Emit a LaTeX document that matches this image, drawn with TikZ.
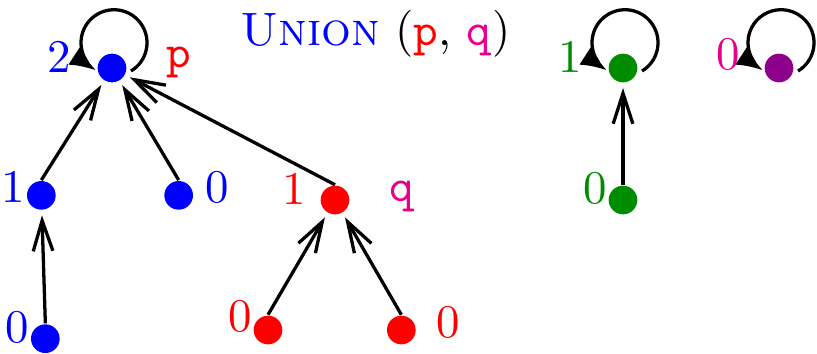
\documentclass[tikz,border=0pt]{standalone}
\usepackage{tikz}
\usetikzlibrary{arrows.meta,positioning}
\definecolor{qpink}{RGB}{230,0,140}
\definecolor{setgreen}{RGB}{0,140,0}
\definecolor{setpurple}{RGB}{140,0,140}
\tikzset{
  dot/.style={circle, minimum size=2.15mm, inner sep=0pt},
  rank/.style={inner sep=0pt, font=\normalsize},
  parentarrow/.style={-{Straight Barb[length=6.5pt,width=4.2pt]}, line width=0.7pt, shorten >=1pt},
  selfloop/.style={-{Latex[length=5.6pt,width=4.4pt]}, line width=0.7pt}
}
\begin{document}
\begin{tikzpicture}
\useasboundingbox (0,0) rectangle (6.1275,-2.6475);
\node (title) at (2.815,-0.25) {\textcolor{blue}{\textsc{Union}} (\textcolor{red}{\texttt{p}}, \textcolor{qpink}{\texttt{q}})};
% blue tree
\node[dot, fill=blue, label={[rank,blue,label distance=1.9mm,yshift=2.4pt]left:2},
  label={[rank,red,label distance=2.9mm,yshift=1.2pt]right:\texttt{p}}] (p) at (0.84,-0.51) {};
\node[dot, fill=blue, label={[rank,blue,label distance=0mm,yshift=1.9pt]left:1}] (b1) at (0.31,-1.465) {};
\node[dot, fill=blue, label={[rank,blue,label distance=0mm,yshift=2.3pt]left:0}] (b0) at (0.34,-2.54) {};
\node[dot, fill=blue, label={[rank,blue,label distance=0.8mm,yshift=1.7pt]right:0}] (b2) at (1.34,-1.465) {};
% red tree
\node[dot, fill=red, label={[rank,red,label distance=1mm,yshift=2.3pt]left:1},
  label={[rank,qpink,label distance=2.85mm,yshift=0.8pt]right:\texttt{q}}] (q) at (2.5125,-1.5) {};
\node[dot, fill=red, label={[rank,red,label distance=0mm,yshift=3pt]left:0}] (r0) at (2.01,-2.475) {};
\node[dot, fill=red, label={[rank,red,label distance=1.45mm,yshift=1.7pt]right:0}] (r1) at (3.01,-2.475) {};
% green tree
\node[dot, fill=setgreen, label={[rank,setgreen,label distance=1.9mm,yshift=2.3pt]left:1}] (g1) at (4.6725,-0.51) {};
\node[dot, fill=setgreen, label={[rank,setgreen,label distance=0mm,yshift=2.5pt]left:0}] (g0) at (4.6725,-1.5) {};
% purple singleton
\node[dot, fill=setpurple, label={[rank,qpink,label distance=1.7mm,yshift=3pt]left:0}] (m0) at (5.8425,-0.51) {};

\draw[parentarrow] (b1.north) -- (p);
\draw[parentarrow] (b2.north) -- (p);
\draw[parentarrow] (q.north) -- (p);
\draw[parentarrow] (b0.north) -- (b1);
\draw[parentarrow] (r0.north) -- (q);
\draw[parentarrow] (r1.north) -- (q);
\draw[parentarrow] (g0.north) -- (g1);
% roots point to themselves
\draw[selfloop] ([shift={(0.1425,-0.0225)}]p.center) arc[start angle=-59, end angle=237, radius=0.2475];
\draw[selfloop] ([shift={(0.1425,-0.0225)}]g1.center) arc[start angle=-59, end angle=237, radius=0.2475];
\draw[selfloop] ([shift={(0.1425,-0.0225)}]m0.center) arc[start angle=-59, end angle=237, radius=0.2475];
\end{tikzpicture}
\end{document}
